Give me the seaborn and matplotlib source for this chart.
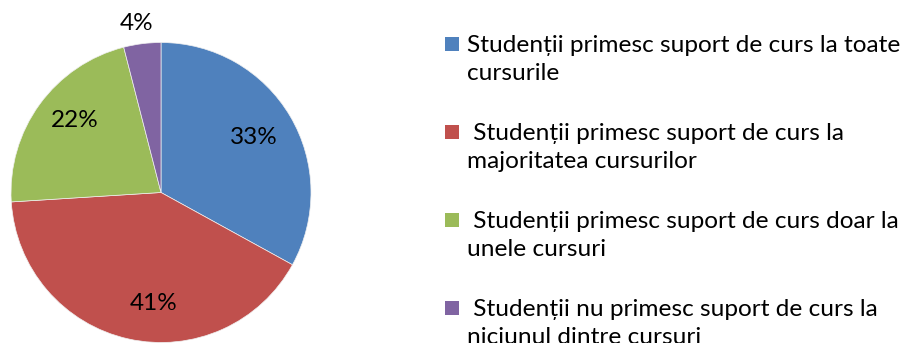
import matplotlib
matplotlib.use("Agg")
import matplotlib.pyplot as plt
from matplotlib.patches import Rectangle
import numpy as np
import seaborn as sns

sns.set_theme(style="white")
plt.rcParams["font.family"] = ["Lato", "DejaVu Sans"]

categories = [
    "Studenții primesc suport de curs la toate\ncursurile",
    " Studenții primesc suport de curs la\nmajoritatea cursurilor",
    " Studenții primesc suport de curs doar la\nunele cursuri",
    " Studenții nu primesc suport de curs la\nniciunul dintre cursuri",
]
shares = [33, 41, 22, 4]
colors = ["#4F81BD", "#C0504D", "#9BBB59", "#8064A2"]

W, H = 907, 343
fig = plt.figure(figsize=(W / 100, H / 100), dpi=100)

# square axes holding the pie (centre ~ (161, 192) px, radius 150 px)
cx, cy, r = 161, 192.5, 150
ax = fig.add_axes([(cx - r) / W, (H - cy - r) / H, 2 * r / W, 2 * r / H])
wedges, _ = ax.pie(shares, colors=colors, startangle=90, counterclock=False,
                   radius=1.0, wedgeprops=dict(linewidth=0.5, edgecolor="#f0f0f0"))
ax.set_xlim(-1, 1)
ax.set_ylim(-1, 1)
ax.set_aspect("equal")
ax.axis("off")

# percentage labels: radial distance and angular nudge per wedge
label_r = [0.72, 0.74, 0.75, 1.14]
label_shift = [0, 9, -4, 1]
for w, v, rr, sh in zip(wedges, shares, label_r, label_shift):
    mid = np.deg2rad((w.theta1 + w.theta2) / 2 + sh)
    ax.text(rr * np.cos(mid), rr * np.sin(mid), f"{v}%", ha="center",
            va="center", fontsize=17.5, color="black", clip_on=False)

# legend: colour square plus wrapped label
x_box, x_txt = 445, 467
y0, step, line_h = 44, 88, 28
for i, (lab, c) in enumerate(zip(categories, colors)):
    yc = y0 + i * step
    fig.patches.append(Rectangle(((x_box) / W, (H - yc - 7) / H), 14 / W, 14 / H,
                                 transform=fig.transFigure, facecolor=c,
                                 edgecolor="none"))
    for j, line in enumerate(lab.split("\n")):
        fig.text(x_txt / W, (H - yc - j * line_h) / H, line, ha="left",
                 va="center_baseline", fontsize=17.6, color="black")

fig.savefig("out.png", dpi=100)
